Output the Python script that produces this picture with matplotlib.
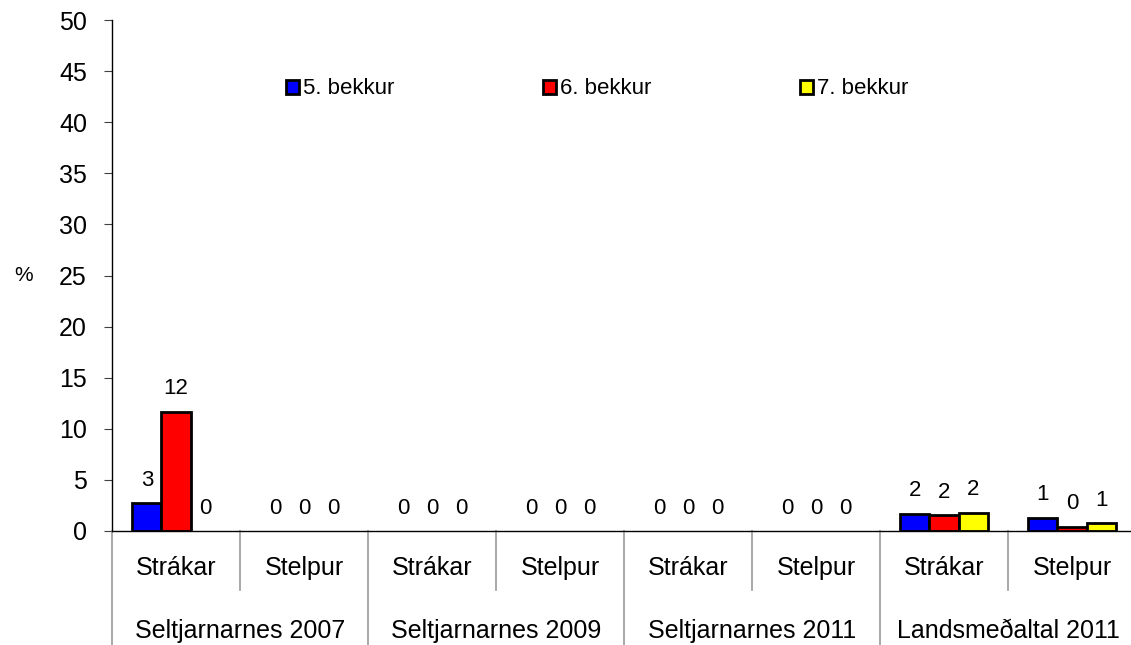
import matplotlib
matplotlib.use("Agg")
import matplotlib.pyplot as plt
import matplotlib.transforms as mtransforms
from matplotlib.patches import Patch
import numpy as np

plt.rcParams['font.family'] = ['Liberation Sans', 'DejaVu Sans']

groups = ["Seltjarnarnes 2007", "Seltjarnarnes 2009", "Seltjarnarnes 2011", "Landsmeðaltal 2011"]
subcats = ["Strákar", "Stelpur"] * 4
series = ["5. bekkur", "6. bekkur", "7. bekkur"]
colors = ["#0000FF", "#FF0000", "#FFFF00"]

bekkur5 = [2.7, 0, 0, 0, 0, 0, 1.7, 1.3]
bekkur6 = [11.65, 0, 0, 0, 0, 0, 1.55, 0.4]
bekkur7 = [0, 0, 0, 0, 0, 0, 1.8, 0.75]
values = [bekkur5, bekkur6, bekkur7]

fig = plt.figure(figsize=(11.31, 6.45), dpi=100)
ax = fig.add_axes([112 / 1131, 114 / 645, 1024 / 1131, 511 / 645])

x = np.arange(len(subcats)) + 0.5
w = 0.227
for k, (name, vals, c) in enumerate(zip(series, values, colors)):
    lw = [2.0 if v > 0 else 0 for v in vals]
    bars = ax.bar(x + (k - 1) * w, vals, w, color=c, edgecolor="black", linewidth=lw)
    ax.bar_label(bars, fmt="{:.0f}", padding=9, fontsize=16)

ax.set_xlim(0, len(subcats))
ax.set_ylim(0, 50)
ax.set_yticks(range(0, 51, 5))
ax.tick_params(axis="y", length=6, pad=12, labelsize=18, color="#404040")
ax.set_xticks([])
for s in ["top", "right"]:
    ax.spines[s].set_visible(False)
ax.spines["left"].set_linewidth(1.0)
ax.spines["bottom"].set_linewidth(1.0)

ax.text(-0.086, 0.5, "%", transform=ax.transAxes, fontsize=15,
        ha="center", va="center")

# two level category axis
trans = mtransforms.blended_transform_factory(ax.transData, ax.transAxes)
for i, lab in enumerate(subcats):
    ax.text(i + 0.5, -0.072, lab, transform=trans, ha="center", va="center", fontsize=18)
for g, lab in enumerate(groups):
    ax.text(2 * g + 1, -0.196, lab, transform=trans, ha="center", va="center", fontsize=18)
for i in range(len(subcats) + 1):
    low = -0.23 if i % 2 == 0 else -0.115
    ax.plot([i, i], [0, low], transform=trans, color="#999999", lw=1.2, clip_on=False)

handles = [Patch(facecolor=c, edgecolor="black", linewidth=2.0) for c in colors]
fig.legend(handles, series, loc="center left", bbox_to_anchor=(286 / 1131, 1 - 89 / 645),
           ncol=3, frameon=False, fontsize=16, handlelength=0.6, handleheight=0.6,
           handletextpad=0.15, columnspacing=6.7, borderpad=0, borderaxespad=0)

fig.savefig("out.png", dpi=100)
